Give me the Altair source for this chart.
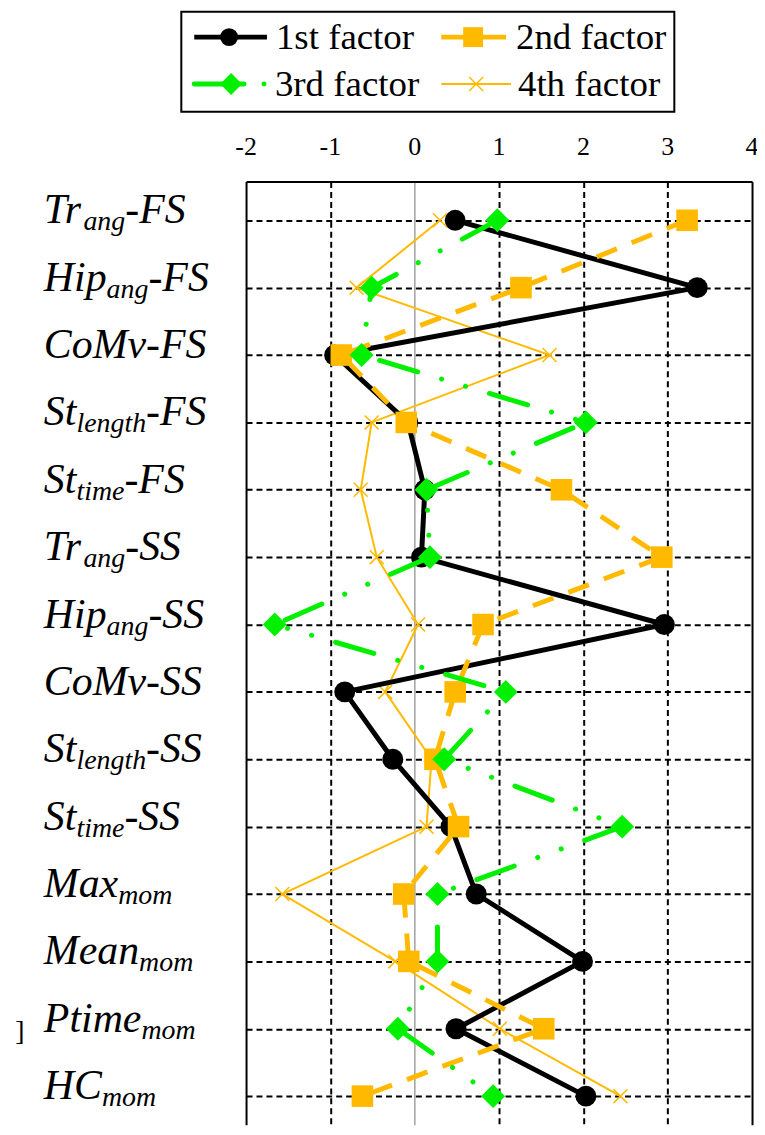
import altair as alt
import pandas as pd

# ---------------- data ----------------
categories = ["Tr_ang-FS", "Hip_ang-FS", "CoMv-FS", "St_length-FS", "St_time-FS",
              "Tr_ang-SS", "Hip_ang-SS", "CoMv-SS", "St_length-SS", "St_time-SS",
              "Max_mom", "Mean_mom", "Ptime_mom", "HC_mom"]
label_base = ["Tr", "Hip", "CoMv-FS", "St", "St", "Tr", "Hip", "CoMv-SS", "St", "St",
              "Max", "Mean", "Ptime", "HC"]
label_sub = ["ang", "ang", "", "length", "time", "ang", "ang", "", "length", "time",
             "mom", "mom", "mom", "mom"]
label_suffix = ["-FS", "-FS", "", "-FS", "-FS", "-SS", "-SS", "", "-SS", "-SS",
                "", "", "", ""]

factor1 = [0.48, 3.35, -0.95, -0.08, 0.12, 0.08, 2.96, -0.83, -0.26, 0.43, 0.73, 1.99, 0.49, 2.03]
factor2 = [3.23, 1.26, -0.87, -0.10, 1.74, 2.93, 0.81, 0.48, 0.24, 0.52, -0.13, -0.07, 1.53, -0.62]
factor3 = [0.98, -0.51, -0.63, 2.03, 0.14, 0.18, -1.66, 1.08, 0.35, 2.46, 0.27, 0.27, -0.20, 0.93]
factor4 = [0.30, -0.69, 1.60, -0.51, -0.64, -0.45, 0.04, -0.35, 0.20, 0.14, -1.57, -0.23, 1.01, 2.44]

series_names = ["1st factor", "2nd factor", "3rd factor", "4th factor"]
x_ticks = [-2, -1, 0, 1, 2, 3, 4]
x_tick_labels = ["-2", "-1", "0", "1", "2", "3", "4"]

ORANGE = "#FFBA00"
GREEN = "#00F000"
SERIF = "Liberation Serif, Times New Roman, serif"

rows = []
for name, vals in zip(series_names, [factor1, factor2, factor3, factor4]):
    for i, (c, v) in enumerate(zip(categories, vals)):
        rows.append({"cat": c, "idx": i, "series": name, "value": v})
df = pd.DataFrame(rows)
ticks_df = pd.DataFrame({"value": x_ticks, "lab": x_tick_labels})

# italic Times/Liberation Serif advance widths (per 1000 em) for label layout
W = {"T": 556, "r": 389, "H": 722, "i": 278, "p": 500, "C": 667, "o": 500, "M": 833,
     "v": 444, "S": 500, "t": 278, "a": 500, "x": 444, "e": 444, "n": 500, "P": 611,
     "m": 722, "g": 500, "l": 278, "h": 500, "-": 333, "F": 611}
MAIN_FS, SUB_FS = 42, 28


def tw(s, fs):
    return sum(W.get(ch, 500) for ch in s) * fs / 1000.0


LABEL_X = -203
lab = []
for c, b, s, f in zip(categories, label_base, label_sub, label_suffix):
    xb = LABEL_X
    xs = xb + tw(b, MAIN_FS)
    xf = xs + tw(s, SUB_FS)
    lab.append({"cat": c, "base": b, "sub": s, "suffix": f, "xb": xb, "xs": xs, "xf": xf})
labels_df = pd.DataFrame(lab)

# ---------------- scales ----------------
xscale = alt.Scale(domain=[-2, 4], nice=False, zero=False)
yscale = alt.Scale(type="point", domain=categories, paddingOuter=0.4326, align=0.575)
label_scale = alt.Scale(type="point", domain=categories, paddingOuter=0.631, align=0.62)

x_enc = alt.X("value:Q", scale=xscale, title=None)
y_enc = alt.Y("cat:N", sort=categories, scale=yscale, title=None)

axis_layer = alt.Chart(df).mark_point(opacity=0).encode(
    x=alt.X("value:Q", scale=xscale, title=None,
            axis=alt.Axis(orient="top", values=x_ticks, grid=True, ticks=False, labels=False,
                          domain=True, domainColor="black", domainWidth=2,
                          gridColor={"condition": {"test": "datum.value === 0", "value": "#8a8a8a"},
                                     "value": "black"},
                          gridDash={"condition": {"test": "datum.value === -1 || (datum.value >= 1 && datum.value <= 3)",
                                                  "value": [6, 4]},
                                    "value": []},
                          gridWidth={"condition": {"test": "datum.value === 0", "value": 1.2},
                                     "value": 2},
                          gridOpacity=1)),
    y=alt.Y("cat:N", sort=categories, scale=yscale, title=None,
            axis=alt.Axis(labels=False, ticks=False, domain=False, grid=True,
                          gridDash=[6, 4], gridColor="black", gridWidth=2, gridOpacity=1)),
)

# tick labels along the top edge, placed by the x scale
tick_labels = alt.Chart(ticks_df).mark_text(
    align="center", baseline="alphabetic", font=SERIF, fontSize=26, color="black", dy=-27
).encode(x=x_enc, y=alt.value(0), text="lab:N")


def series_layers(name, line_kw, point_kw):
    d = alt.Chart(df).transform_filter(alt.datum.series == name)
    line = d.mark_line(**line_kw).encode(x=x_enc, y=y_enc, order=alt.Order("idx:Q"))
    pts = d.mark_point(opacity=1, **point_kw).encode(x=x_enc, y=y_enc)
    return [line, pts]


XPATH = "M-1,-1L1,1M-1,1L1,-1"

s4 = series_layers("4th factor", dict(color=ORANGE, strokeWidth=2),
                   dict(shape=XPATH, filled=False, stroke=ORANGE, strokeWidth=1.5, size=196))
s1 = series_layers("1st factor", dict(color="black", strokeWidth=5, strokeJoin="round"),
                   dict(shape="circle", filled=True, color="black", size=441))
s2 = series_layers("2nd factor", dict(color=ORANGE, strokeWidth=5, strokeDash=[22, 16]),
                   dict(shape="square", filled=True, color=ORANGE, size=470))
s3 = series_layers("3rd factor", dict(color=GREEN, strokeWidth=5, strokeCap="round",
                                      strokeDash=[40, 25, 0.1, 25, 0.1, 25]),
                   dict(shape="diamond", filled=True, color=GREEN, size=576))

# ---------------- legend (drawn in the top padding) ----------------
one = pd.DataFrame({"name": series_names})


def leg(name):
    return alt.Chart(one).transform_filter(alt.datum.name == name)


legend_layers = [
    alt.Chart(one.head(1)).mark_rect(fill=None, stroke="black", strokeWidth=2).encode(
        x=alt.value(-65), x2=alt.value(430), y=alt.value(-170.5), y2=alt.value(-70)),
    # 1st
    leg("1st factor").mark_rule(color="black", strokeWidth=5).encode(
        x=alt.value(-52), x2=alt.value(21), y=alt.value(-145)),
    leg("1st factor").mark_point(shape="circle", filled=True, color="black", size=324, opacity=1).encode(
        x=alt.value(-17), y=alt.value(-145)),
    leg("1st factor").mark_text(align="left", baseline="alphabetic", font=SERIF, fontSize=37, color="black").encode(
        x=alt.value(30), y=alt.value(-133), text="name:N"),
    # 2nd
    leg("2nd factor").mark_rule(color=ORANGE, strokeWidth=5).encode(
        x=alt.value(196), x2=alt.value(261), y=alt.value(-145)),
    leg("2nd factor").mark_point(shape="square", filled=True, color=ORANGE, size=400, opacity=1).encode(
        x=alt.value(228), y=alt.value(-145)),
    leg("2nd factor").mark_text(align="left", baseline="alphabetic", font=SERIF, fontSize=37, color="black").encode(
        x=alt.value(271), y=alt.value(-133), text="name:N"),
    # 3rd
    leg("3rd factor").mark_rule(color=GREEN, strokeWidth=5, strokeCap="round", strokeDash=[50, 20, 0.1, 60]).encode(
        x=alt.value(-52), x2=alt.value(21), y=alt.value(-98)),
    leg("3rd factor").mark_point(shape="diamond", filled=True, color=GREEN, size=484, opacity=1).encode(
        x=alt.value(-15), y=alt.value(-98)),
    leg("3rd factor").mark_text(align="left", baseline="alphabetic", font=SERIF, fontSize=37, color="black").encode(
        x=alt.value(29), y=alt.value(-86), text="name:N"),
    # 4th
    leg("4th factor").mark_rule(color=ORANGE, strokeWidth=2).encode(
        x=alt.value(196), x2=alt.value(266), y=alt.value(-98)),
    leg("4th factor").mark_point(shape=XPATH, filled=False, stroke=ORANGE, strokeWidth=1.5, size=196, opacity=1).encode(
        x=alt.value(231), y=alt.value(-98)),
    leg("4th factor").mark_text(align="left", baseline="alphabetic", font=SERIF, fontSize=37, color="black").encode(
        x=alt.value(273), y=alt.value(-86), text="name:N"),
    # stray bracket glyph at the left edge
    alt.Chart(one.head(1)).mark_text(align="center", baseline="alphabetic", font=SERIF, fontSize=28, color="black").encode(
        x=alt.value(-227), y=alt.value(862), text=alt.value("]")),
]

main = alt.layer(axis_layer, tick_labels, *s4, *s1, *s2, *s3, *legend_layers)

# ---------------- category labels with subscripts ----------------
ly = alt.Y("cat:N", sort=categories, scale=label_scale, axis=None)
lbase = alt.Chart(labels_df)
label_layer = alt.layer(
    lbase.mark_text(align="left", baseline="alphabetic", font=SERIF, fontStyle="italic",
                    fontSize=MAIN_FS, color="black").encode(
        x=alt.X("xb:Q", scale=None, axis=None), y=ly, text="base:N"),
    lbase.mark_text(align="left", baseline="alphabetic", font=SERIF, fontStyle="italic",
                    fontSize=SUB_FS, color="black", dy=7).encode(
        x=alt.X("xs:Q", scale=None, axis=None), y=ly, text="sub:N"),
    lbase.mark_text(align="left", baseline="alphabetic", font=SERIF, fontStyle="italic",
                    fontSize=MAIN_FS, color="black").encode(
        x=alt.X("xf:Q", scale=None, axis=None), y=ly, text="suffix:N"),
)

chart = alt.layer(main, label_layer).resolve_scale(y="independent").properties(
    width=508, height=947,
    autosize=alt.AutoSizeParams(type="none"),
    padding={"left": 239, "top": 172, "right": 5, "bottom": 0},
    background="white",
).configure_view(stroke=None)

chart.save("out.html", embed_options={"renderer": "svg", "actions": False})
